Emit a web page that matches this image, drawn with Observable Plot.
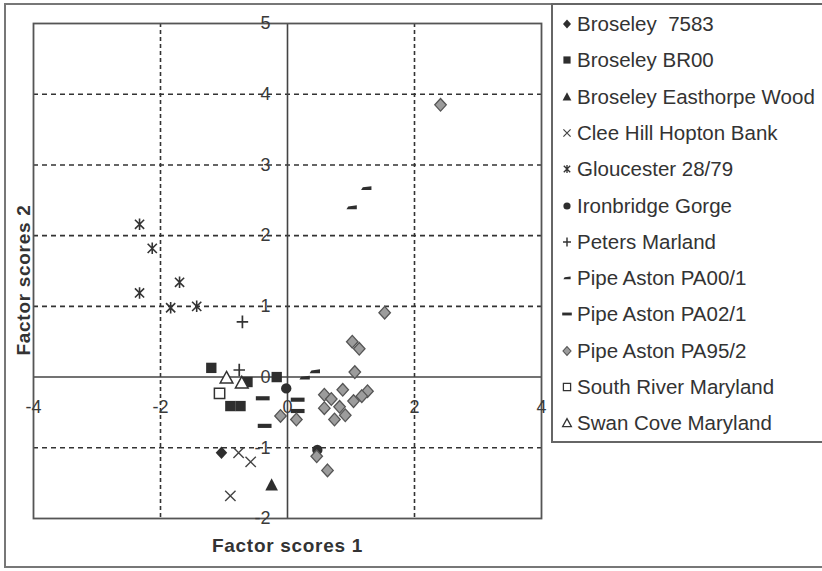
<!DOCTYPE html>
<html><head><meta charset="utf-8">
<script src="https://cdn.jsdelivr.net/npm/d3@7"></script>
<script src="https://cdn.jsdelivr.net/npm/@observablehq/plot@0.6"></script>
<style>
html,body{margin:0;padding:0;background:#fff;overflow:hidden;}
#wrap{position:relative;width:822px;height:571px;overflow:hidden;font-family:"Liberation Sans",Arial,sans-serif;}
#outer{position:absolute;left:4px;top:3px;width:840px;height:565px;border:2px solid #777;box-sizing:border-box;}
#chart{position:absolute;left:0;top:0;}
#legend{position:absolute;left:551px;top:3px;width:300px;height:440px;border:2px solid #666;box-sizing:border-box;background:#fff;}
.row{position:absolute;left:0;height:30px;display:flex;align-items:center;font-size:20.5px;color:#333;white-space:pre;}
.row svg{position:absolute;left:7px;top:8px;}
.row span{position:absolute;left:24px;}
</style></head>
<body>
<div id="wrap"><div id="outer"></div><div id="chart"></div><div id="legend"></div></div>
<script>
// ---- data ----
const seriesNames = ["Broseley  7583","Broseley BR00","Broseley Easthorpe Wood","Clee Hill Hopton Bank","Gloucester 28/79","Ironbridge Gorge","Peters Marland","Pipe Aston PA00/1","Pipe Aston PA02/1","Pipe Aston PA95/2","South River Maryland","Swan Cove Maryland"];

const broseley7583X = [-1.04];
const broseley7583Y = [-1.07];
const broseleyBR00X = [-1.20, -0.63, -0.17, -0.90, -0.74];
const broseleyBR00Y = [0.13, -0.07, 0.00, -0.41, -0.41];
const easthorpeX = [-0.25];
const easthorpeY = [-1.53];
const cleeHillX = [-0.77, -0.58, -0.90];
const cleeHillY = [-1.07, -1.20, -1.68];
const gloucesterX = [-2.33, -2.13, -1.70, -2.33, -1.84, -1.43];
const gloucesterY = [2.16, 1.82, 1.34, 1.19, 0.98, 1.00];
const ironbridgeX = [-0.02, 0.47];
const ironbridgeY = [-0.16, -1.03];
const petersX = [-0.71, -0.76];
const petersY = [0.78, 0.10];
const pa00X = [1.01, 1.24, 0.27, 0.43];
const pa00Y = [2.40, 2.67, -0.01, 0.08];
const pa02X = [-0.39, -0.36, 0.16, 0.16];
const pa02Y = [-0.30, -0.69, -0.32, -0.48];
const pa95X = [2.41, 1.53, 1.02, 1.13, 1.06, 0.87, 0.58, 0.69, 1.26, 1.17, 1.04, 0.58, 0.82, 0.91, 0.74, 0.14, -0.11, 0.46, 0.63];
const pa95Y = [3.85, 0.91, 0.50, 0.40, 0.07, -0.18, -0.25, -0.31, -0.20, -0.27, -0.34, -0.44, -0.42, -0.54, -0.60, -0.60, -0.55, -1.12, -1.32];
const southRiverX = [-1.07];
const southRiverY = [-0.23];
const swanCoveX = [-0.96, -0.72];
const swanCoveY = [-0.01, -0.08];

const xTicks = [-4, -2, 0, 2, 4];
const yTicks = [-2, -1, 0, 1, 2, 3, 4, 5];
const xGrid = [-2, 2];
const yGrid = [-1, 1, 2, 3, 4];

// ---- marker shapes ----
const shapes = {
  diamond: (c,k)=>{c.moveTo(0,-5.5*k);c.lineTo(5*k,0);c.lineTo(0,5.5*k);c.lineTo(-5*k,0);c.closePath();},
  square: (c,k)=>{c.rect(-4.5*k,-4.5*k,9*k,9*k);},
  triangle: (c,k)=>{c.moveTo(0,-6*k);c.lineTo(5.5*k,4.5*k);c.lineTo(-5.5*k,4.5*k);c.closePath();},
  times: (c,k)=>{c.moveTo(-4.5*k,-4.5*k);c.lineTo(4.5*k,4.5*k);c.moveTo(4.5*k,-4.5*k);c.lineTo(-4.5*k,4.5*k);},
  star: (c,k)=>{c.moveTo(-4*k,-4*k);c.lineTo(4*k,4*k);c.moveTo(4*k,-4*k);c.lineTo(-4*k,4*k);c.moveTo(0,-5*k);c.lineTo(0,5*k);},
  circle: (c,k)=>{c.moveTo(4.5*k,0);c.arc(0,0,4.5*k,0,2*Math.PI);},
  plus: (c,k)=>{c.moveTo(-5*k,0);c.lineTo(5*k,0);c.moveTo(0,-5.5*k);c.lineTo(0,5.5*k);},
  shortDash: (c,k)=>{c.moveTo(-4.5*k,1.6*k);c.lineTo(-3*k,-0.8*k);c.lineTo(4.5*k,-1.8*k);c.lineTo(4.5*k,1.6*k);c.closePath();},
  longDash: (c,k)=>{c.rect(-6*k,-1.8*k,12*k,3.6*k);},
  openSquare: (c,k)=>{c.rect(-4.5*k,-4.5*k,9*k,9*k);},
  openTriangle: (c,k)=>{c.moveTo(0,-5.5*k);c.lineTo(5.5*k,4.5*k);c.lineTo(-5.5*k,4.5*k);c.closePath();}
};
const dark = "#2e2e2e";
const series = [
  {X: broseley7583X, Y: broseley7583Y, shape: "diamond", fill: dark, stroke: "none", sw: 0},
  {X: broseleyBR00X, Y: broseleyBR00Y, shape: "square", fill: dark, stroke: "none", sw: 0},
  {X: easthorpeX, Y: easthorpeY, shape: "triangle", fill: dark, stroke: "none", sw: 0},
  {X: cleeHillX, Y: cleeHillY, shape: "times", fill: "none", stroke: "#444", sw: 1.4},
  {X: gloucesterX, Y: gloucesterY, shape: "star", fill: "none", stroke: "#333", sw: 1.6},
  {X: ironbridgeX, Y: ironbridgeY, shape: "circle", fill: dark, stroke: "none", sw: 0},
  {X: petersX, Y: petersY, shape: "plus", fill: "none", stroke: "#333", sw: 1.7},
  {X: pa00X, Y: pa00Y, shape: "shortDash", fill: dark, stroke: "none", sw: 0},
  {X: pa02X, Y: pa02Y, shape: "longDash", fill: dark, stroke: "none", sw: 0},
  {X: pa95X, Y: pa95Y, shape: "diamond", fill: "#9c9c9c", stroke: "#555", sw: 1.3},
  {X: southRiverX, Y: southRiverY, shape: "openSquare", fill: "#fff", stroke: "#333", sw: 1.5},
  {X: swanCoveX, Y: swanCoveY, shape: "openTriangle", fill: "#fff", stroke: "#333", sw: 1.5}
];
series.forEach((s, i) => { s.name = seriesNames[i]; s.data = s.X.map((x, j) => ({x, y: s.Y[j]})); });

const symObj = (shape, k) => ({draw: (ctx) => shapes[shape](ctx, k)});
const font = "'Liberation Sans', Arial, sans-serif";

const chart = Plot.plot({
  width: 822, height: 571,
  marginLeft: 33, marginRight: 281, marginTop: 23, marginBottom: 53,
  x: {domain: [-4, 4], axis: null},
  y: {domain: [-2, 5], axis: null},
  style: {background: "transparent", fontFamily: font, overflow: "visible"},
  marks: [
    Plot.ruleX(xGrid, {stroke: "#333", strokeWidth: 1.6, strokeDasharray: "4,3"}),
    Plot.ruleY(yGrid, {stroke: "#333", strokeWidth: 1.6, strokeDasharray: "5,4"}),
    Plot.ruleX([0], {stroke: "#444", strokeWidth: 1.6}),
    Plot.ruleY([0], {stroke: "#444", strokeWidth: 1.6}),
    Plot.frame({stroke: "#555", strokeWidth: 1.8}),
    Plot.text(yTicks, {x: 0, y: d => d, text: d => String(d), textAnchor: "end", dx: -17, fontSize: 18, fill: "#3a3a3a"}),
    Plot.text(xTicks, {x: d => d, y: 0, text: d => String(d), textAnchor: "middle", dy: 30, fontSize: 18, fill: "#3a3a3a"}),
    ...series.map(s => Plot.dot(s.data, {x: "x", y: "y", symbol: symObj(s.shape, 1.15), fill: s.fill, stroke: s.stroke, strokeWidth: s.sw})),
    Plot.text(["Factor scores 1"], {frameAnchor: "bottom", text: d => d, dy: 33, fontSize: 19, fontWeight: "bold", fill: "#333"}),
    Plot.text(["Factor scores 2"], {frameAnchor: "left", text: d => d, textAnchor: "middle", dx: -10, dy: 9, rotate: -90, fontSize: 19, fontWeight: "bold", fill: "#333"})
  ]
});
document.getElementById("chart").appendChild(chart);
d3.select(chart).selectAll("text").filter(function(){return this.textContent === "Factor scores 1" || this.textContent === "Factor scores 2";}).style("letter-spacing", "0.7px");

// ---- legend ----
const legend = d3.select("#legend");
series.forEach((s, i) => {
  const cy = 24 + 36.3 * i - 5;
  const row = legend.append("div").attr("class", "row").style("top", (cy - 15) + "px");
  const svg = row.append("svg").attr("width", 14).attr("height", 14).attr("viewBox", "-7 -7 14 14");
  const p = d3.path();
  shapes[s.shape](p, 0.8);
  svg.append("path").attr("d", p.toString()).attr("fill", s.fill).attr("stroke", s.stroke).attr("stroke-width", s.sw ? Math.max(1, s.sw * 0.85) : 0);
  row.append("span").text(s.name);
});
</script>
</body></html>
